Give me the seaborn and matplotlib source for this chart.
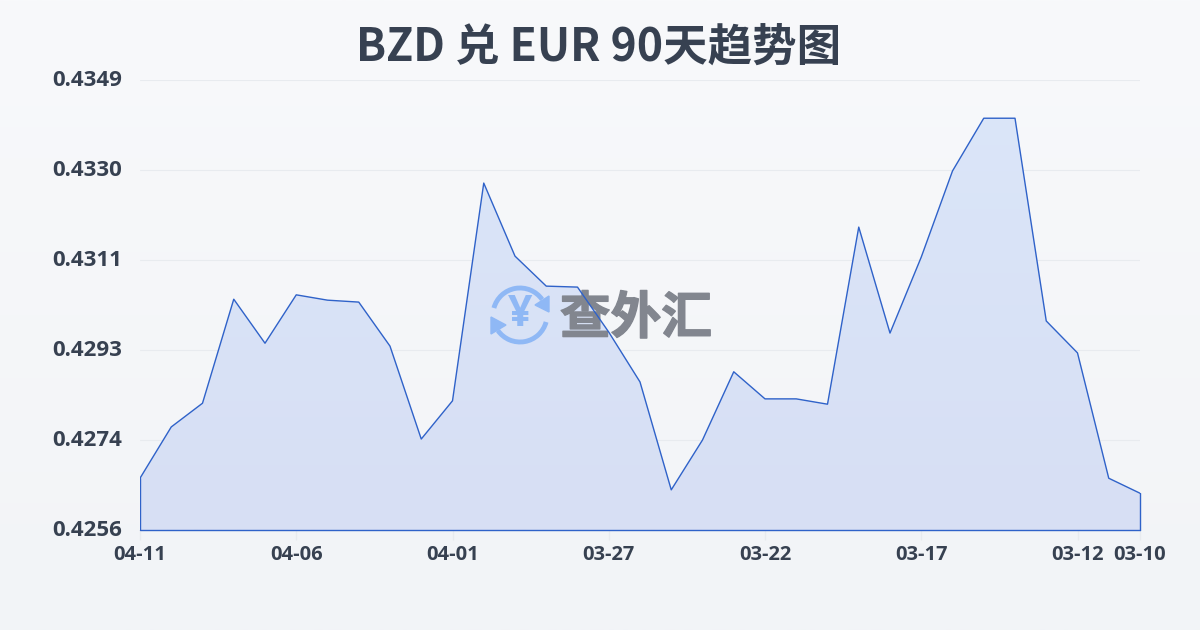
import numpy as np
import pandas as pd
import matplotlib
matplotlib.use('Agg')
import matplotlib.pyplot as plt
import matplotlib.patheffects as pe
import seaborn as sns
from matplotlib.patches import Arc, Polygon
from matplotlib.colors import LinearSegmentedColormap
from matplotlib.transforms import ScaledTranslation

# values, newest first
rates = [0.42667, 0.42773, 0.42822, 0.43037, 0.42946, 0.43046, 0.43035, 0.43031, 0.42940,
         0.42748, 0.42827, 0.43277, 0.43126, 0.43064, 0.43062, 0.42969, 0.42866, 0.42643,
         0.42746, 0.42887, 0.42831, 0.42831, 0.42820, 0.43186, 0.42967, 0.43124, 0.43302,
         0.43411, 0.43411, 0.42992, 0.42926, 0.42667, 0.42636]
xticks = [0, 5, 10, 15, 20, 25, 30, 32]
xlabels = ['04-11', '04-06', '04-01', '03-27', '03-22', '03-17', '03-12', '03-10']
yticks = [0.4256, 0.42746, 0.42932, 0.43118, 0.43304, 0.4349]
ylabels = ['0.4256', '0.4274', '0.4293', '0.4311', '0.4330', '0.4349']
title = 'BZD 兑 EUR 90天趋势图'
watermark = '查外汇'

df = pd.DataFrame({'day': range(len(rates)), 'rate': rates})

sns.set_style('white')
plt.rcParams['font.family'] = ['Noto Sans CJK SC', 'DejaVu Sans']

ink = '#374151'
blue = '#2f62c9'

fig = plt.figure(figsize=(12, 6.3), dpi=100)

# page background
bg = fig.add_axes([0, 0, 1, 1], zorder=0)
bg.imshow(np.linspace(0, 1, 256).reshape(-1, 1), aspect='auto', extent=[0, 1200, 630, 0],
          cmap=LinearSegmentedColormap.from_list('bg', ['#f8f9fb', '#f2f4f7']))
bg.set_xlim(0, 1200)
bg.set_ylim(630, 0)
bg.axis('off')

# overlay in pixel coordinates for the watermark, under the line
mark = fig.add_axes([0, 0, 1, 1], zorder=2)
mark.set_xlim(0, 1200)
mark.set_ylim(630, 0)
mark.axis('off')
mark.patch.set_alpha(0)

ax = fig.add_axes([140 / 1200, 1 - 530 / 630, 1000 / 1200, 450 / 630], zorder=1)
ax.patch.set_alpha(0)
ax.set_xlim(0, 32)
ax.set_ylim(yticks[0], yticks[-1])

ax.grid(axis='y', color='#e8ebef', lw=0.8)
ax.set_axisbelow(True)

# area fill with a faint vertical gradient, clipped to the series
poly = ax.fill_between(df['day'], df['rate'], yticks[0], color='none', lw=0)
grad = ax.imshow(np.linspace(0, 1, 256).reshape(-1, 1), aspect='auto',
                 extent=[0, 32, yticks[0], yticks[-1]], zorder=1.5,
                 cmap=LinearSegmentedColormap.from_list('fill', ['#dbe6f9', '#d7dff4']))
grad.set_clip_path(poly.get_paths()[0], ax.transData)
ax.set_xlim(0, 32)
ax.set_ylim(yticks[0], yticks[-1])

for s in ax.spines.values():
    s.set_visible(False)
ax.set_xticks(xticks, xlabels, fontsize=14.5, color=ink, family=['Open Sans', 'DejaVu Sans'])
ax.set_yticks(yticks, ylabels, fontsize=16, color=ink, family=['Open Sans', 'DejaVu Sans'])
for lab in ax.get_xticklabels() + ax.get_yticklabels():
    lab.set_fontweight('bold')
ax.tick_params(axis='x', length=7, width=1, color='#e8ebef', pad=4, bottom=True)
ax.tick_params(axis='y', length=0, pad=13, left=False)

# y labels sit a little above their grid lines
for lab in ax.get_yticklabels():
    lab.set_transform(lab.get_transform() + ScaledTranslation(0, 1.5 / 100, fig.dpi_scale_trans))

# line goes on its own axes so it stays above the watermark
line_ax = fig.add_axes(ax.get_position(), zorder=3, sharex=ax, sharey=ax)
line_ax.patch.set_alpha(0)
line_ax.axis('off')
sns.lineplot(data=df, x='day', y='rate', ax=line_ax, color=blue, lw=1)
line_ax.plot([0, 0], [yticks[0], rates[0]], color=blue, lw=1)
line_ax.plot([32, 32], [yticks[0], rates[-1]], color=blue, lw=1, clip_on=False)
line_ax.plot([0, 32], [yticks[0], yticks[0]], color=blue, lw=1, clip_on=False)

mark.text(599, 47.5, title, ha='center', va='center', fontsize=32, fontweight='bold', color=ink)
mark.text(636, 319, watermark, ha='center', va='center', fontsize=36.5, fontweight='bold', color='#82868f',
          path_effects=[pe.withStroke(linewidth=1, foreground='#82868f')])

# coin icon
icon = '#8fb8f5'
cx, cy = 520, 315
mark.add_patch(Arc((cx, cy), 54, 54, theta1=195, theta2=325, color=icon, lw=3.5))
mark.add_patch(Arc((cx, cy), 54, 54, theta1=15, theta2=145, color=icon, lw=3.5))
mark.add_patch(Polygon([[549, 296], [549, 312], [535, 305]], color=icon))
mark.add_patch(Polygon([[491, 317], [491, 334], [506, 325]], color=icon))
mark.text(cx, cy, '¥', ha='center', va='center', fontsize=31, fontweight='bold', color=icon,
          family=['Open Sans', 'DejaVu Sans'])

plt.savefig('out.png', dpi=100)
